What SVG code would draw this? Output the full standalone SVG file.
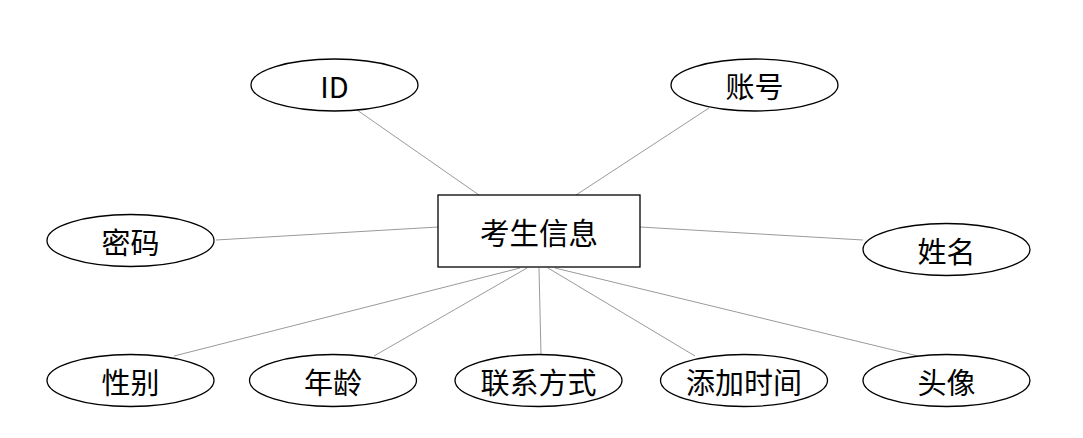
<svg xmlns="http://www.w3.org/2000/svg" width="1083" height="438" viewBox="0 0 1083 438">
<style>
.e{fill:#fff;stroke:#000;stroke-width:1.3}
.r{fill:#fff;stroke:#000;stroke-width:1.3}
.t{font-family:"Noto Sans CJK SC","Liberation Sans",sans-serif;font-size:29px;text-anchor:middle;dominant-baseline:central;fill:#000}
.tb{font-size:29.5px}
.c line{stroke:#9a9a9a;stroke-width:1}
</style>
<rect width="1083" height="438" fill="#fff"/>
<g class="c" id="connectors">
<line x1="357" y1="110" x2="479" y2="195"/>
<line x1="709" y1="108" x2="576" y2="195"/>
<line x1="216" y1="240" x2="438" y2="227"/>
<line x1="640" y1="227" x2="863" y2="240"/>
<line x1="174" y1="356" x2="520" y2="268"/>
<line x1="374" y1="356" x2="527" y2="268"/>
<line x1="539" y1="268" x2="541" y2="355"/>
<line x1="548" y1="268" x2="695" y2="356"/>
<line x1="555" y1="268" x2="918" y2="356"/>
</g>
<g id="center"><rect class="r" x="438" y="195" width="202" height="72"/><text class="t tb" x="539" y="231">考生信息</text></g>
<g id="n-id"><ellipse class="e" cx="334.5" cy="85" rx="83.5" ry="26"/><text class="t" x="334.5" y="85">ID</text></g>
<g id="n-account"><ellipse class="e" cx="754.5" cy="85" rx="83.5" ry="26"/><text class="t" x="754.5" y="85">账号</text></g>
<g id="n-pwd"><ellipse class="e" cx="130.5" cy="240.5" rx="83.5" ry="26"/><text class="t" x="130.5" y="240.5">密码</text></g>
<g id="n-name"><ellipse class="e" cx="946.5" cy="249.5" rx="83.5" ry="26"/><text class="t" x="946.5" y="249.5">姓名</text></g>
<g id="n-sex"><ellipse class="e" cx="130.5" cy="380.5" rx="83.5" ry="26"/><text class="t" x="130.5" y="380.5">性别</text></g>
<g id="n-age"><ellipse class="e" cx="333" cy="380.5" rx="83.5" ry="26"/><text class="t" x="333" y="380.5">年龄</text></g>
<g id="n-contact"><ellipse class="e" cx="538.5" cy="380.5" rx="83.5" ry="26"/><text class="t" x="538.5" y="380.5">联系方式</text></g>
<g id="n-time"><ellipse class="e" cx="744" cy="380.5" rx="83.5" ry="26"/><text class="t" x="744" y="380.5">添加时间</text></g>
<g id="n-avatar"><ellipse class="e" cx="946.5" cy="380.5" rx="83.5" ry="26"/><text class="t" x="946.5" y="380.5">头像</text></g>
</svg>
